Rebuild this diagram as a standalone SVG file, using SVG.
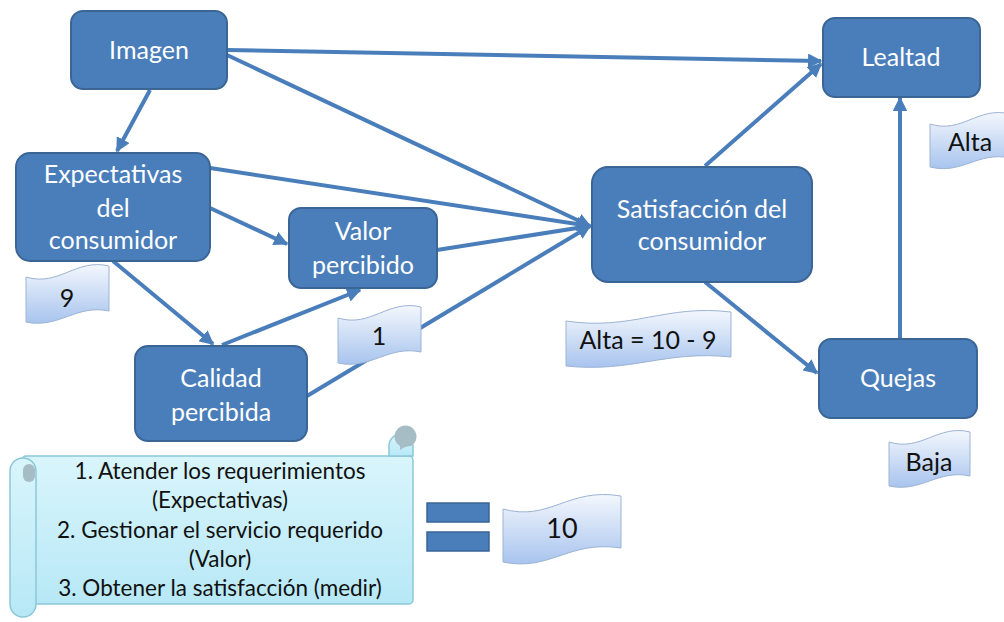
<svg xmlns="http://www.w3.org/2000/svg" width="1004" height="622" viewBox="0 0 1004 622">
<defs>
<style>
.node rect{fill:#4a7ebb;stroke:#3a6595;stroke-width:2}
.node text{fill:#fff;font-family:Lato,"Liberation Sans",sans-serif;font-size:25px;text-anchor:middle}
.conn path{fill:none;stroke:#4a7ebb;stroke-width:4;marker-end:url(#ah)}
.note path{fill:url(#ng);stroke:#9db3d4;stroke-width:1}
.note text,.scroll text{fill:#111;font-family:Lato,"Liberation Sans",sans-serif;font-size:25px;text-anchor:middle}
.scroll text{font-size:22.5px}
</style>
<marker id="ah" viewBox="0 0 10 10" refX="9" refY="5" markerWidth="3.6" markerHeight="3.6" orient="auto">
<path d="M0,0 L10,5 L0,10 z" fill="#4a7ebb"/>
</marker>
<linearGradient id="ng" x1="0" y1="0" x2="0" y2="1">
<stop offset="0" stop-color="#f3f7fd"/>
<stop offset="1" stop-color="#a8c4ee"/>
</linearGradient>
<linearGradient id="sg" x1="0" y1="0" x2="0" y2="1">
<stop offset="0" stop-color="#d9f5fc"/>
<stop offset="1" stop-color="#b7e8f6"/>
</linearGradient>
</defs>
<rect width="1004" height="622" fill="#fff"/>

<g id="connectors" class="conn">
<path d="M227,50 L821,61"/>
<path d="M227,55 L590,226"/>
<path d="M150,90 L117,151"/>
<path d="M210,168 L590,226"/>
<path d="M210,208 L287,244"/>
<path d="M113,261 L213,344"/>
<path d="M222,345 L360,290"/>
<path d="M437,250 L590,226"/>
<path d="M307,396 L590,226"/>
<path d="M705,166 L821,64"/>
<path d="M705,282 L817,373"/>
<path d="M900,339 L900,98"/>
</g>

<g id="n-imagen" class="node"><rect x="71" y="11" width="156" height="78" rx="12"/><text x="149" y="59">Imagen</text></g>
<g id="n-expectativas" class="node"><rect x="16" y="153" width="194" height="108" rx="14"/><text x="113" y="183">Expectativas</text><text x="113" y="217">del</text><text x="113" y="249">consumidor</text></g>
<g id="n-valor" class="node"><rect x="289" y="208" width="148" height="80" rx="12"/><text x="363" y="240">Valor</text><text x="363" y="274">percibido</text></g>
<g id="n-calidad" class="node"><rect x="135" y="346" width="172" height="95" rx="13"/><text x="221" y="387">Calidad</text><text x="221" y="421">percibida</text></g>
<g id="n-satisfaccion" class="node"><rect x="592" y="167" width="220" height="115" rx="16"/><text x="702" y="218">Satisfacción del</text><text x="702" y="250">consumidor</text></g>
<g id="n-lealtad" class="node"><rect x="823" y="18" width="157" height="79" rx="12"/><text x="901" y="66">Lealtad</text></g>
<g id="n-quejas" class="node"><rect x="819" y="339" width="158" height="79" rx="12"/><text x="898" y="387">Quejas</text></g>

<g id="note-9" class="note"><path d="M26,277 C59,287 76,258 109,266 L109,311 C76,304 59,329 26,322 Z"/><text x="67" y="307">9</text></g>
<g id="note-1" class="note"><path d="M338,318 C371,328 388,299 421,307 L421,352 C388,345 371,370 338,363 Z"/><text x="379" y="345">1</text></g>
<g id="note-alta-sat" class="note"><path d="M566,321 C632,331 665,304 731,312 L731,357 C665,350 632,373 566,366 Z"/><text x="648" y="349">Alta = 10 - 9</text></g>
<g id="note-alta" class="note"><path d="M930,124 C962,134 978,106 1010,114 L1010,158 C978,151 962,175 930,167 Z"/><text x="970" y="151">Alta</text></g>
<g id="note-baja" class="note"><path d="M889,442 C921,452 938,424 970,432 L970,476 C938,469 921,493 889,486 Z"/><text x="929" y="471">Baja</text></g>
<g id="note-10" class="note"><path d="M503,509 C550,522 568,487 621,496 L621,548 C568,540 550,572 503,562 Z"/><text x="562" y="538" style="font-size:27px">10</text></g>

<g id="scroll" class="scroll">
<rect x="22" y="456" width="391" height="148" rx="4" fill="url(#sg)" stroke="#8cc7d8" stroke-width="1.5"/>
<path d="M389,456 V446 A12,12 0 0 1 413,446 V456 Z" fill="url(#sg)" stroke="#8cc7d8" stroke-width="1.5"/>
<path d="M400,456 V446 A11,11 0 1 1 411,446 Q405,446 400,450 Z" fill="#a7bdc5"/>
<rect x="10" y="458" width="26" height="159" rx="13" fill="url(#sg)" stroke="#8cc7d8" stroke-width="1.5"/>
<rect x="23" y="464" width="12" height="18" rx="6" fill="#a7bdc5"/>
<text x="220" y="479">1. Atender los requerimientos</text>
<text x="220" y="508">(Expectativas)</text>
<text x="220" y="538">2. Gestionar el servicio requerido</text>
<text x="220" y="567">(Valor)</text>
<text x="220" y="596">3. Obtener la satisfacción (medir)</text>
</g>

<g id="equals">
<rect x="427" y="503" width="62" height="19" fill="#4a7ebb" stroke="#3a6595" stroke-width="1.5"/>
<rect x="427" y="532" width="62" height="19" fill="#4a7ebb" stroke="#3a6595" stroke-width="1.5"/>
</g>
</svg>
